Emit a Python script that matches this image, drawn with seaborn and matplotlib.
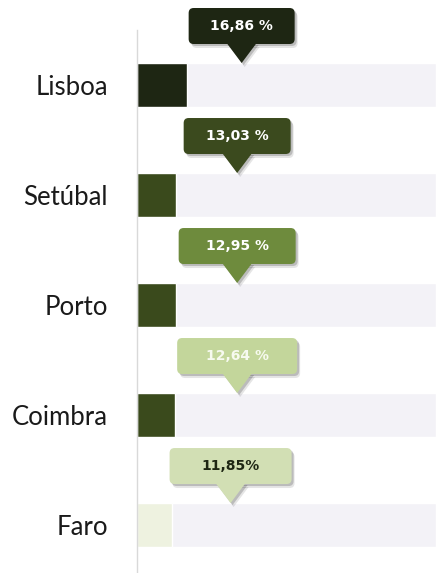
import pandas as pd
import seaborn as sns
import matplotlib.pyplot as plt
from matplotlib.patches import FancyBboxPatch, Polygon
from matplotlib.transforms import Affine2D, ScaledTranslation

# data
districts = ['Lisboa', 'Setúbal', 'Porto', 'Coimbra', 'Faro']
share = [16.86, 13.03, 12.95, 12.64, 11.85]
tip_labels = ['16,86 %', '13,03 %', '12,95 %', '12,64 %', '11,85%']
track = [100, 100, 100, 100, 100]

# styling
bar_colors = ['#1e2613', '#3a4a1c', '#3a4a1c', '#3a4a1c', '#eef2e0']
tip_colors = ['#1e2613', '#3b4a1e', '#6e8b3d', '#c3d69b', '#d2dfb4']
tip_text = ['white', 'white', 'white', '#f7faf0', '#1e2613']
tip_x = [35, 33.5, 33.5, 33.5, 31.3]
tip_w = [106, 107, 117, 120, 122]

sns.set_style('white')
plt.rcParams['font.family'] = ['Lato', 'DejaVu Sans']

fig = plt.figure(figsize=(4.36, 5.73), dpi=100)
ax = fig.add_axes([137 / 436, 0, 299 / 436, 543 / 573])

df = pd.DataFrame({'district': districts, 'share': share, 'track': track})
sns.barplot(data=df, y='district', x='track', color='#f3f2f7', width=0.4,
            saturation=1, ax=ax)
sns.barplot(data=df, y='district', x='share', hue='district', palette=bar_colors,
            legend=False, width=0.4, saturation=1, ax=ax)

ax.set_xlim(0, 100)
ax.set_ylim(4.436, -0.5)
ax.set_xlabel('')
ax.set_ylabel('')
ax.set_xticks([])
ax.tick_params(axis='y', length=0, pad=21, labelsize=18.5, labelcolor='#1a1a1a')
for s in ['top', 'right', 'bottom']:
    ax.spines[s].set_visible(False)
ax.spines['left'].set_color('#d9d9d9')
ax.spines['left'].set_linewidth(1)

# tooltips (pixel units, anchored at the bar top)
px = Affine2D().scale(fig.dpi / 100.)
for i in range(len(districts)):
    w = tip_w[i]
    for dx, dy, a in [(3, -4, 0.10), (2, -2, 0.18)]:
        tr = px + ScaledTranslation(tip_x[i], i - 0.2, ax.transData) + \
            Affine2D().translate(dx, dy)
        ax.add_patch(FancyBboxPatch((-w / 2, 19), w, 36, boxstyle='round,pad=0,rounding_size=5',
                                    fc='black', ec='none', alpha=a, transform=tr, clip_on=False))
        ax.add_patch(Polygon([(-15, 20), (15, 20), (0, 0)], fc='black', ec='none',
                             alpha=a, transform=tr, clip_on=False))
    tr = px + ScaledTranslation(tip_x[i], i - 0.2, ax.transData)
    ax.add_patch(FancyBboxPatch((-w / 2, 19), w, 36, boxstyle='round,pad=0,rounding_size=5',
                                fc=tip_colors[i], ec='none', transform=tr, clip_on=False))
    ax.add_patch(Polygon([(-15, 20), (15, 20), (0, 0)], fc=tip_colors[i], ec='none',
                         transform=tr, clip_on=False))
    ax.text(0, 37, tip_labels[i], transform=tr, ha='center', va='center',
            fontsize=10, fontweight='bold', family='DejaVu Sans', color=tip_text[i])

fig.savefig('out.png', dpi=100)
